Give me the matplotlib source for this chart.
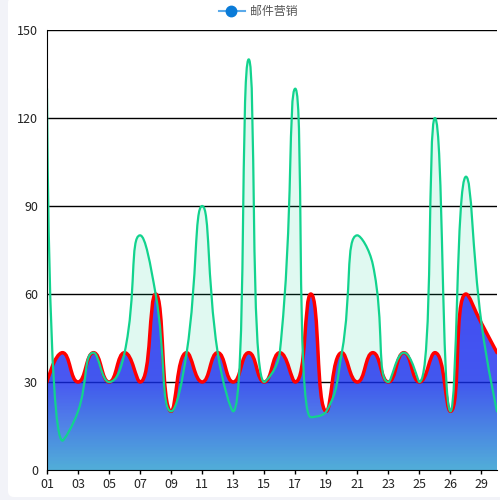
import matplotlib
matplotlib.use('Agg')
import matplotlib.pyplot as plt
import numpy as np
from matplotlib.path import Path
from matplotlib.patches import PathPatch, FancyBboxPatch
from matplotlib.lines import Line2D

plt.rcParams['font.family'] = ['Noto Sans CJK SC', 'DejaVu Sans']

# 数据
days = ['01', '02', '03', '04', '05', '06', '07', '08', '09', '10',
        '11', '12', '13', '14', '15', '16', '17', '18', '19', '20',
        '21', '22', '23', '24', '25', '26', '26', '28', '29', '30']
red_vals = [30, 40, 30, 40, 30, 40, 30, 60, 20, 40,
            30, 40, 30, 40, 30, 40, 30, 60, 20, 40,
            30, 40, 30, 40, 30, 40, 20, 60, 50, 40]
green_vals = [130, 10, 20, 40, 30, 40, 80, 60, 20, 40,
              90, 40, 20, 140, 30, 40, 130, 18, 20, 40,
              80, 70, 30, 40, 30, 120, 20, 100, 50, 20]
legend_name = '邮件营销'
y_ticks = [0, 30, 60, 90, 120, 150]

# 像素比例（用于平滑曲线的控制点）
SX = 15.55
SY = 440 / 150


def smooth_path(vals, smooth=0.5):
    pts = [(i * SX, v * SY) for i, v in enumerate(vals)]
    verts = [pts[0]]
    codes = [Path.MOVETO]
    cp0 = pts[0]
    n = len(pts)
    for i in range(1, n):
        x, y = pts[i]
        px, py = pts[i - 1]
        if i + 1 >= n:
            cp1 = (x, y)
            ncp0 = None
        else:
            nx, ny = pts[i + 1]
            vx, vy = nx - px, ny - py
            l0 = np.hypot(x - px, y - py)
            l1 = np.hypot(nx - x, ny - y)
            r = l1 / (l0 + l1)
            ncx = x + vx * smooth * r
            ncy = y + vy * smooth * r
            ncx = max(min(ncx, max(nx, x)), min(nx, x))
            ncy = max(min(ncy, max(ny, y)), min(ny, y))
            vx, vy = ncx - x, ncy - y
            c1x = x - vx * l0 / l1
            c1y = y - vy * l0 / l1
            c1x = max(min(c1x, max(px, x)), min(px, x))
            c1y = max(min(c1y, max(py, y)), min(py, y))
            vx, vy = x - c1x, y - c1y
            ncp0 = (x + vx * l1 / l0, y + vy * l1 / l0)
            cp1 = (c1x, c1y)
        verts += [cp0, cp1, (x, y)]
        codes += [Path.CURVE4] * 3
        cp0 = ncp0
    verts = [(a / SX, b / SY) for a, b in verts]
    return verts, codes


def area_path(vals):
    verts, codes = smooth_path(vals)
    verts = verts + [(len(vals) - 1, 0), (0, 0), verts[0]]
    codes = codes + [Path.LINETO, Path.LINETO, Path.CLOSEPOLY]
    return Path(verts, codes)


fig = plt.figure(figsize=(5, 5), dpi=100)
fig.patch.set_facecolor('#f2f3f8')
card = FancyBboxPatch((0.016, 0.006), 1.0, 1.0, transform=fig.transFigure,
                      boxstyle='round,pad=0,rounding_size=0.012',
                      facecolor='white', edgecolor='none', zorder=-10)
fig.patches.append(card)

ax = fig.add_axes([0.094, 0.06, 0.9, 0.88])
ax.set_facecolor('none')
ax.set_xlim(0, len(days) - 1)
ax.set_ylim(0, 150)

# 网格线
for t in y_ticks[1:]:
    ax.axhline(t, color='black', lw=1, zorder=1)

# 绿色面积
gv, gc = smooth_path(green_vals)
green_area = PathPatch(area_path(green_vals), facecolor=(0, 0.82, 0.55, 0.12),
                       edgecolor='none', zorder=2)
ax.add_patch(green_area)

# 红色面积（渐变）
red_area = PathPatch(area_path(red_vals), facecolor='none', edgecolor='none', zorder=3)
ax.add_patch(red_area)
alpha = 0.78
stops_y = [0, 30, 60]
stops_rgb = np.array([[88, 175, 220], [72, 88, 242], [72, 78, 248]], dtype=float)
yy = np.linspace(0, 60, 200)
img = np.zeros((200, 1, 4))
for k in range(3):
    target = np.interp(yy, stops_y, stops_rgb[:, k])
    img[:, 0, k] = np.clip((target - (1 - alpha) * 255) / alpha, 0, 255) / 255
img[:, 0, 3] = alpha
im = ax.imshow(img, extent=[0, len(days) - 1, 0, 60], origin='lower',
               aspect='auto', interpolation='bilinear', zorder=3)
im.set_clip_path(red_area)

# 线
rv, rc = smooth_path(red_vals)
ax.add_patch(PathPatch(Path(rv, rc), facecolor='none', edgecolor='#ff0000',
                       lw=2.5, zorder=4, capstyle='round', joinstyle='round'))
ax.add_patch(PathPatch(Path(gv, gc), facecolor='none', edgecolor='#12d38e',
                       lw=1.6, zorder=5, capstyle='round', joinstyle='round'))

# 坐标轴
for s in ['top', 'right']:
    ax.spines[s].set_visible(False)
ax.spines['left'].set_color('black')
ax.spines['bottom'].set_color('black')
ax.spines['left'].set_zorder(6)
ax.spines['bottom'].set_zorder(6)
ax.set_yticks(y_ticks)
ax.set_yticklabels([str(t) for t in y_ticks])
xt = list(range(0, len(days), 2))
ax.set_xticks(xt)
ax.set_xticklabels([days[i] for i in xt])
ax.tick_params(axis='y', length=0, pad=6.5, labelsize=9, labelcolor='#222222')
ax.tick_params(axis='x', length=3, width=1, pad=2.5, labelsize=9, labelcolor='#222222')

# 图例
fig.add_artist(Line2D([219 / 500, 245 / 500], [489 / 500, 489 / 500],
                      color='#5aaaea', lw=1.5, transform=fig.transFigure))
fig.add_artist(Line2D([231 / 500], [489 / 500], marker='o', markersize=7.5,
                      color='#0a7bd8', transform=fig.transFigure))
fig.text(250 / 500, 489 / 500, legend_name, fontsize=8.6, color='#555555',
         va='center', ha='left')

fig.savefig('out.png', dpi=100, facecolor=fig.get_facecolor())
